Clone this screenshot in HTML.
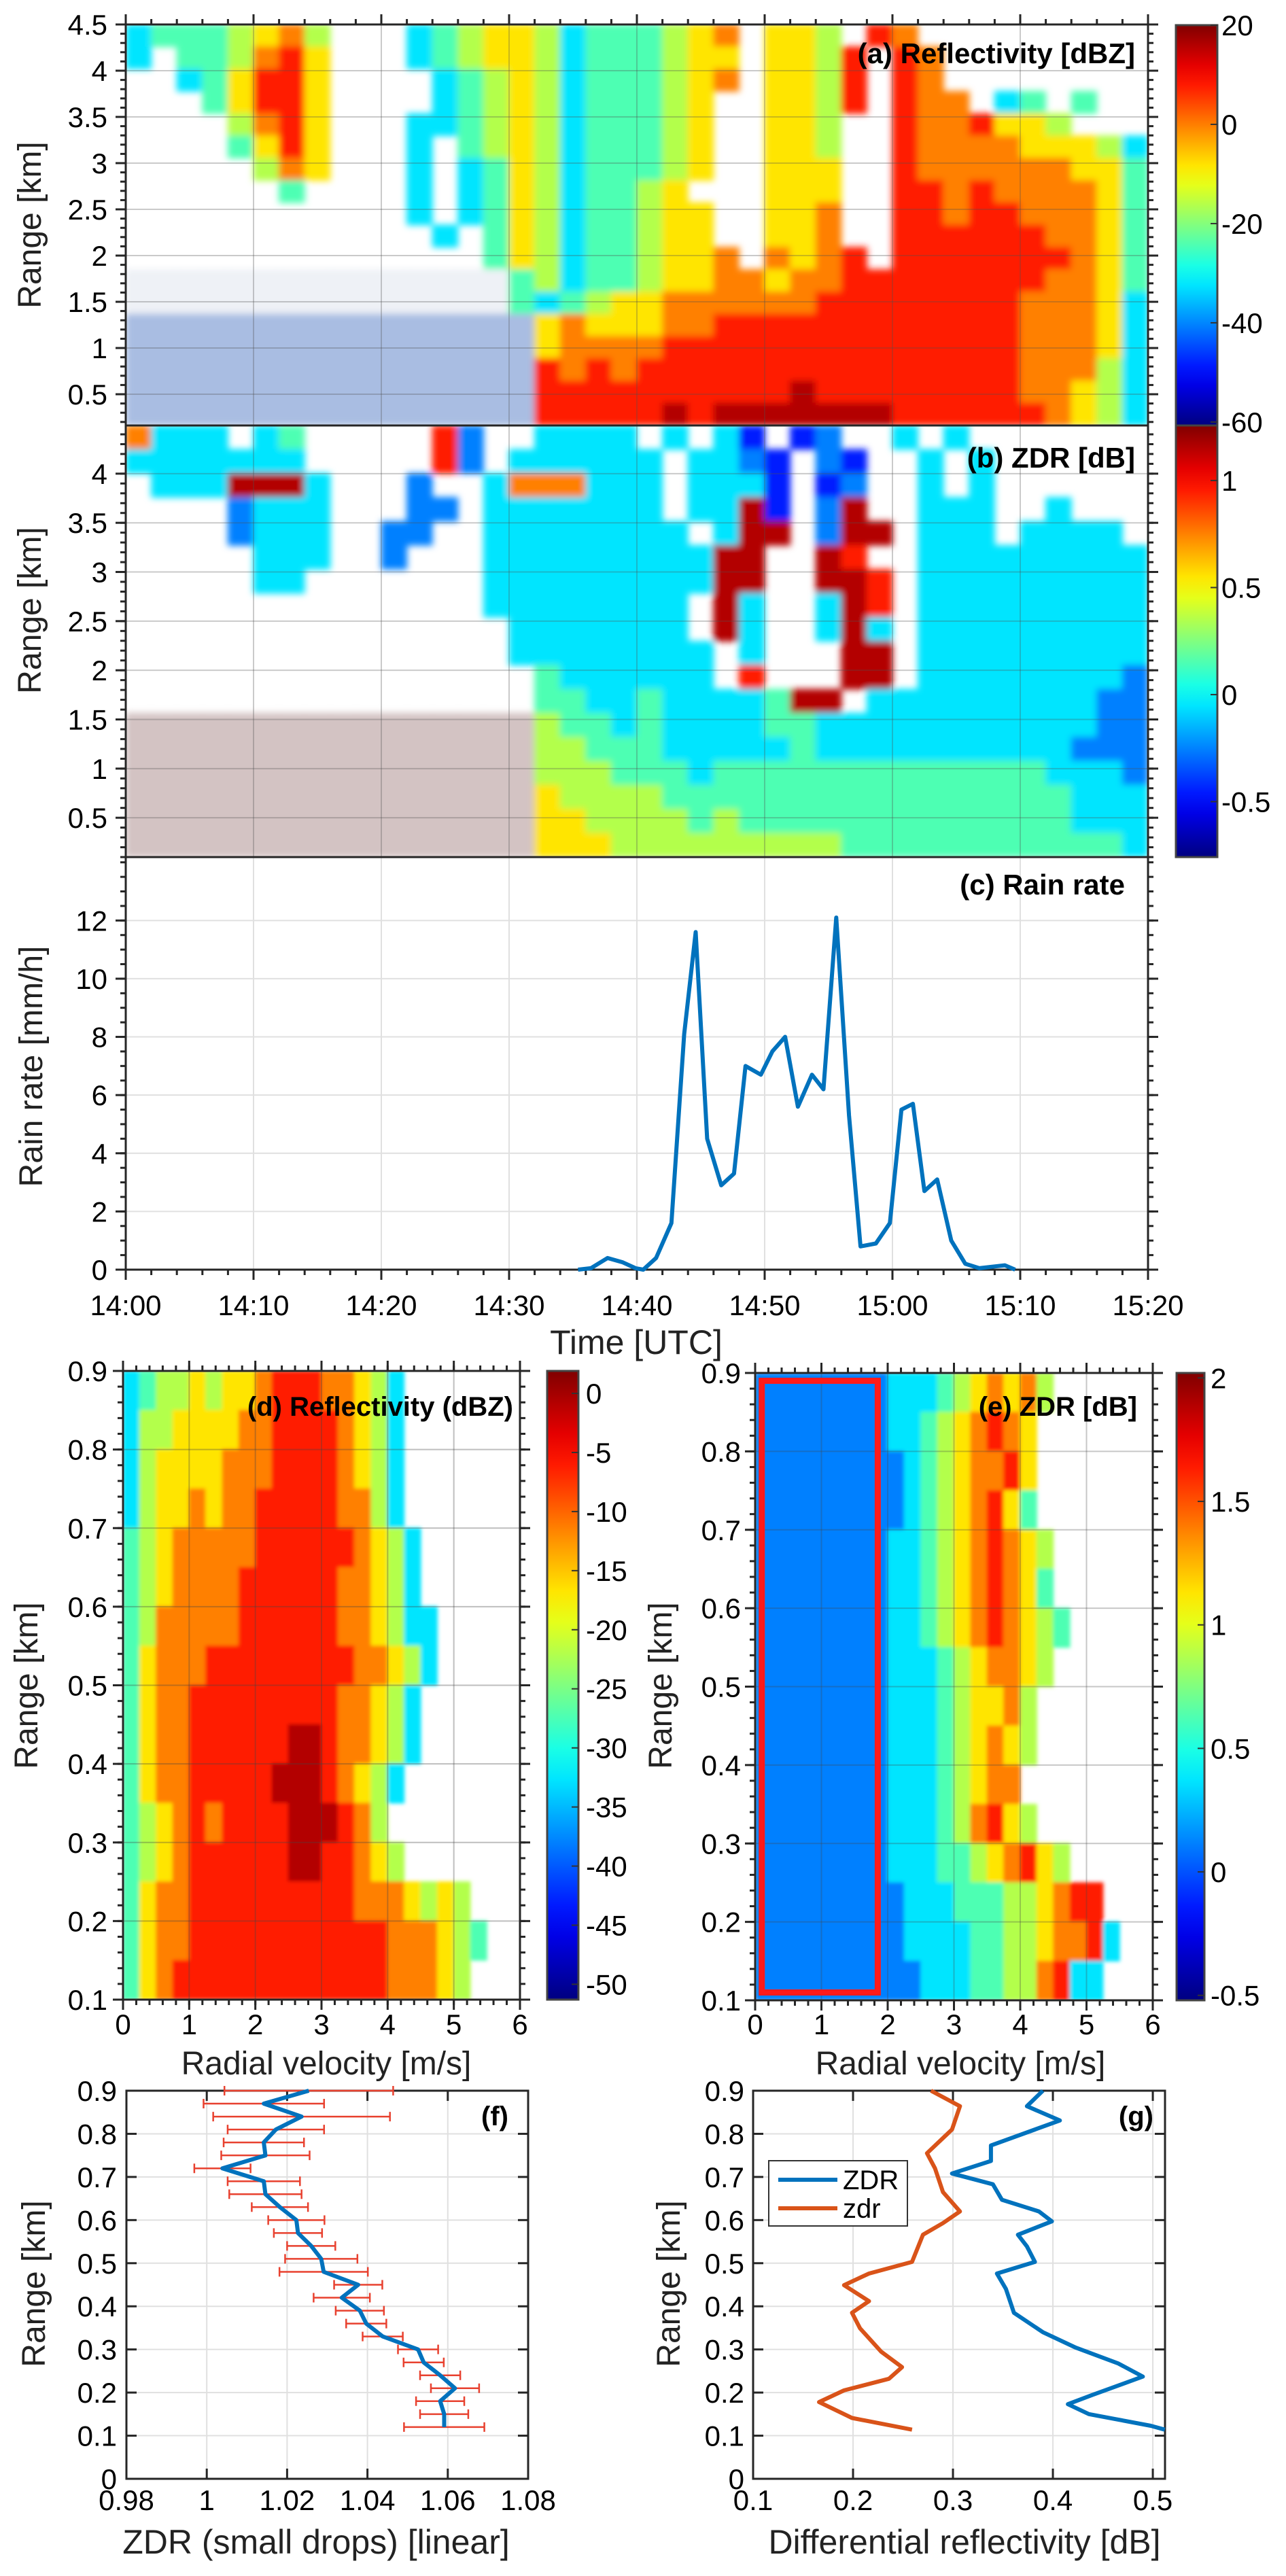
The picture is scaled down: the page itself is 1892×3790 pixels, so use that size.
<!DOCTYPE html>
<html><head><meta charset="utf-8">
<style>
html,body{margin:0;padding:0;background:#fff;}
svg{display:block;font-family:"Liberation Sans",Arial,sans-serif;}
</style></head>
<body>
<svg id="fig" xmlns="http://www.w3.org/2000/svg" width="1892" height="3790" viewBox="0 0 1892 3790">
<defs>
<filter id="blurA" filterUnits="userSpaceOnUse" x="0" y="0" width="1892" height="3790"><feGaussianBlur stdDeviation="5"/></filter>
<filter id="blurD" filterUnits="userSpaceOnUse" x="0" y="0" width="1892" height="3790"><feGaussianBlur stdDeviation="3"/></filter>
</defs>
</svg>
<script>
// ---------- DATA ----------
const rainMin=[35.4,36.4,37.7,38.9,39.9,40.5,41.5,42.7,43.7,44.6,45.5,46.6,47.6,48.5,49.7,50.6,51.6,52.6,53.7,54.6,55.6,56.6,57.5,58.7,59.8,60.7,61.6,62.5,63.5,64.6,65.7,66.8,67.8,68.8,69.6];
const rainVal=[0,0.05,0.4,0.25,0.05,0,0.4,1.6,8.1,11.6,4.5,2.9,3.3,7.0,6.7,7.5,8.0,5.6,6.7,6.2,12.1,5.3,0.8,0.9,1.6,5.5,5.7,2.7,3.1,1.0,0.2,0.05,0.1,0.15,0];
const timeTickLabels=["14:00","14:10","14:20","14:30","14:40","14:50","15:00","15:10","15:20"];

const fRange=[0.9,0.87,0.84,0.81,0.78,0.75,0.72,0.69,0.66,0.63,0.6,0.57,0.54,0.51,0.48,0.45,0.42,0.39,0.36,0.33,0.3,0.27,0.24,0.21,0.18,0.15,0.12];
const fMean=[1.0254,1.0142,1.0236,1.0172,1.0142,1.0146,1.0039,1.0142,1.0146,1.0182,1.0223,1.0227,1.026,1.0285,1.0291,1.0377,1.0336,1.0381,1.0397,1.0438,1.0526,1.054,1.0581,1.0618,1.0581,1.0591,1.0591];
const fErr=[0.021,0.015,0.022,0.012,0.01,0.011,0.007,0.009,0.009,0.007,0.007,0.006,0.006,0.009,0.011,0.006,0.007,0.006,0.005,0.005,0.005,0.005,0.005,0.006,0.006,0.006,0.01];

const gRangeZDR=[0.9,0.864,0.831,0.773,0.737,0.708,0.683,0.647,0.62,0.597,0.566,0.539,0.503,0.476,0.44,0.385,0.34,0.304,0.268,0.237,0.195,0.173,0.15,0.123,0.114];
const gZDR=[0.390,0.374,0.407,0.338,0.338,0.299,0.340,0.349,0.386,0.399,0.365,0.374,0.382,0.344,0.353,0.361,0.390,0.423,0.465,0.490,0.440,0.415,0.436,0.498,0.512];
const gRangeZdr=[0.9,0.864,0.81,0.755,0.72,0.665,0.62,0.593,0.566,0.503,0.476,0.449,0.412,0.385,0.349,0.295,0.259,0.232,0.205,0.178,0.141,0.114];
const gZdr=[0.278,0.307,0.299,0.274,0.282,0.290,0.307,0.290,0.270,0.259,0.216,0.191,0.216,0.199,0.207,0.228,0.249,0.236,0.191,0.166,0.199,0.259];

// heatmap level grids (digit 0-9 = colormap level, '.' = no echo, n/m/g = clutter)
const reflRows=[
"34445675...3456653444567.665.87.........",
"3.445786...3456653444566.6658.87........",
"..346886....345653444567.6658.87........",
"...46886....34565344456..6658.877.34.4..",
"....5786...334565344456..665..8778665...",
"....4686...3.4565344456..665..8777766653",
".....576...3.3465344456..666..8777777664",
"......4....3.346534456...666..8878777764",
"...........3.3465344566..667..8878877764",
"............3.465344566..667..8888887764",
"..............4653445667.7678.8888888764",
"mmmmmmmmmmmmmmm4534456677677888888887764",
"mmmmmmmmmmmmmmm4345667777778888888877763",
"nnnnnnnnnnnnnnnn676667788888888888877763",
"nnnnnnnnnnnnnnnn677778888888888888877763",
"nnnnnnnnnnnnnnnn878788888888888888877753",
"nnnnnnnnnnnnnnnn888888888898888888877653",
"nnnnnnnnnnnnnnnn888889899999998888887653"];
const zdrRows=[
"7333.34.....82..3333.3.31.12..3.3.......",
"3333333.....82.333333.3321.21..3.3......",
".3339993...2..3777333.3331.12..3.3......",
"....2333...22.3333333.3391.29..333..3...",
"....2333..22..33333333.399.299.333.3333.",
".....333..2...33333333399..98..333333333",
".....33.......33333333399..998.333333333",
"..............33333333.93..398.333333333",
"...............3333333.93..393.333333333",
"...............33333333.3...99.333333333",
"................4333333.8...99.333333332",
"................443343333499.33333333322",
"gggggggggggggggg544343333443333333333322",
"gggggggggggggggg554443333343333333333222",
"gggggggggggggggg555444344444444444443332",
"gggggggggggggggg655554444444444444444333",
"gggggggggggggggg665555454444444444444333",
"gggggggggggggggg666555555555444444444443"];
const dRows=[
"34556566788877653",
"35566667788887653",
"35666677788887653",
"35667677888887753",
"456777778888887653",
"456777788888877653",
"4577777888888776533",
"4677788888888877653",
"467788888888877653",
"467788888899877653",
"46778888899987653",
"4567878888999875",
"45678888889988765",
"467788888888887776565",
"4677888888888888777654",
"467888888888888877765"];
const eRows=[
"222222223334567675",
"22222222334567876",
"22222222234567786",
"22222222234567864",
"222222223345678765",
"222222223345678764",
"2222222233456787654",
"222222223334567765",
"22222222333456675",
"22222222333456765",
"2222222233345677",
"22222222333457865",
"2222222233344567865",
"222222222333444556788",
"2222222223333445567783",
"222222222233344557833"];
const cbTicksA=[20,0,-20,-40,-60];
const cbTicksB=[1,0.5,0,-0.5];
const cbTicksD=[0,-5,-10,-15,-20,-25,-30,-35,-40,-45,-50];
const cbTicksE=[2,1.5,1,0.5,0,-0.5];

// ---------- HELPERS ----------
const NS='http://www.w3.org/2000/svg';
const svg=document.getElementById('fig');
function mk(tag,attrs,parent){const e=document.createElementNS(NS,tag);for(const k in attrs)e.setAttribute(k,attrs[k]);(parent||svg).appendChild(e);return e;}
function jet(f){f=Math.max(0,Math.min(1,f));const c=x=>Math.round(255*Math.max(0,Math.min(1,x)));return 'rgb('+c(1.5-Math.abs(4*f-3))+','+c(1.5-Math.abs(4*f-2))+','+c(1.5-Math.abs(4*f-1))+')';}
function levelColor(ch){
  if(ch==='n')return '#a9bde2';
  if(ch==='m')return '#eef1f6';
  if(ch==='g')return '#d3c3c3';
  return jet((parseInt(ch,10)+0.5)/10);
}
const INK='#262626';
function scales(p){
  p.sx=v=>p.x0+(v-p.xd[0])/(p.xd[1]-p.xd[0])*(p.x1-p.x0);
  p.sy=v=>p.y1-(v-p.yd[0])/(p.yd[1]-p.yd[0])*(p.y1-p.y0);
  return p;
}
function range(a,b,s){const r=[];for(let v=a;v<=b+1e-9;v+=s)r.push(Math.round(v*1e6)/1e6);return r;}

function heat(p,rows,ncols,xr,yr,filt,name){
  const clip=mk('clipPath',{id:'clip-'+name},svg.querySelector('defs'));
  mk('rect',{x:p.x0,y:p.y0,width:p.x1-p.x0,height:p.y1-p.y0},clip);
  const outer=mk('g',{'clip-path':'url(#clip-'+name+')'});
  
  
  const g=mk('g',{filter:'url(#'+filt+')'},outer);
  const cw=(xr[1]-xr[0])/ncols, rh=(yr[0]-yr[1])/rows.length;
  rows.forEach((row,ri)=>{
    const s=row.padEnd(ncols,'.');
    for(let ci=0;ci<ncols;ci++){
      const ch=s[ci]; if(ch==='.')continue;
      const xa=p.sx(xr[0]+ci*cw), xb=p.sx(xr[0]+(ci+1)*cw);
      const ya=p.sy(yr[0]-ri*rh), yb=p.sy(yr[0]-(ri+1)*rh);
      const r=mk('rect',{x:xa-0.5,y:ya-0.5,width:xb-xa+1,height:yb-ya+1,fill:levelColor(ch)},g);
      
      
    }
  });
}

function decor(p){
  const g=mk('g',{});
  
  
  const gc=p.gridColor||'#e0e0e0';
  if(p.grid){
    p.xt.forEach(v=>{const x=p.sx(v);if(x>p.x0+2&&x<p.x1-2){const l=mk('line',{x1:x,x2:x,y1:p.y0,y2:p.y1,stroke:gc,'stroke-width':2},g);}});
    p.yt.forEach(v=>{const y=p.sy(v);if(y>p.y0+2&&y<p.y1-2){const l=mk('line',{x1:p.x0,x2:p.x1,y1:y,y2:y,stroke:gc,'stroke-width':2},g);}});
  }
  const d=p.out?1:-1, L=15, Lm=8;
  const tk=(x1,y1,x2,y2)=>{const l=mk('line',{x1,y1,x2,y2,stroke:INK,'stroke-width':3},g);};
  const drawX=(vals,len)=>vals.forEach(v=>{const x=p.sx(v);if(x<p.x0-1||x>p.x1+1)return;
    if(!p.noBottom)tk(x,p.y1,x,p.y1+d*len); if(!p.noTop)tk(x,p.y0,x,p.y0-d*len);});
  const drawY=(vals,len)=>vals.forEach(v=>{const y=p.sy(v);if(y<p.y0-1||y>p.y1+1)return;
    tk(p.x0,y,p.x0-d*len,y); tk(p.x1,y,p.x1+d*len,y);});
  if(p.xminor)drawX(p.xminor,Lm); drawX(p.xt,L);
  if(p.yminor)drawY(p.yminor,Lm); drawY(p.yt,L);
  const fr=mk('rect',{x:p.x0,y:p.y0,width:p.x1-p.x0,height:p.y1-p.y0,fill:'none',stroke:INK,'stroke-width':3},g);
  
  
  if(p.yLabels!==false){
    p.yt.forEach(v=>{const t=mk('text',{x:p.yLabX,y:p.sy(v)+15,'text-anchor':'end','font-size':42,fill:'#000'},g);t.textContent=p.yfmt?p.yfmt(v):String(v);});
  }
  if(p.xLabels){
    p.xt.forEach((v,i)=>{const t=mk('text',{x:p.sx(v),y:p.xLabY,'text-anchor':'middle','font-size':42,fill:'#000'},g);t.textContent=p.xfmt?p.xfmt(v,i):String(v);});
  }
}
function label(s,x,y,opts,name){
  const a={x,y,'font-size':opts.size||48,fill:opts.fill||'#222','text-anchor':opts.anchor||'middle'};
  if(opts.bold)a['font-weight']='bold';
  if(opts.rot)a.transform='rotate(-90 '+x+' '+y+')';
  const t=mk('text',a);t.textContent=s;
  
  
  return t;
}
function colorbar(x0,x1,y0,y1,dom,ticks,labX,name){
  const id='grad-'+name;
  const lg=mk('linearGradient',{id,x1:0,y1:1,x2:0,y2:0},svg.querySelector('defs'));
  for(let i=0;i<=20;i++)mk('stop',{offset:(i/20),'stop-color':jet(i/20)},lg);
  const g=mk('g',{});
  
  
  const r=mk('rect',{x:x0,y:y0,width:x1-x0,height:y1-y0,fill:'url(#'+id+')',stroke:'#444','stroke-width':3},g);
  
  
  const sy=v=>y1-(v-dom[0])/(dom[1]-dom[0])*(y1-y0);
  ticks.forEach(v=>{const y=sy(v);
    const l=mk('line',{x1:x1-10,x2:x1,y1:y,y2:y,stroke:'#333','stroke-width':2},g);
    
    
    const t=mk('text',{x:labX,y:y+15,'font-size':42,fill:'#000'},g);t.textContent=String(v);
    
    });
}
function polyline(p,xs,ys,color,name){
  const pts=xs.map((x,i)=>p.sx(x).toFixed(1)+','+p.sy(ys[i]).toFixed(1)).join(' ');
  const l=mk('polyline',{points:pts,fill:'none',stroke:color,'stroke-width':6,'stroke-linejoin':'round'});
  
  
}

// ---------- PANEL A ----------
const tMajor=range(0,80,10), tMinor=range(0,80,2);
const A=scales({name:'panel-a',x0:185,x1:1689,y0:36,y1:626,xd:[0,80],yd:[0.162,4.5],xt:tMajor,xminor:tMinor,yt:range(0.5,4.5,0.5),yminor:range(0.2,4.5,0.1),out:true,grid:true,gridColor:'rgba(80,80,80,0.3)',noBottom:true,yLabX:158});
heat(A,reflRows,40,[0,80],[4.5,0.162],'blurA','reflectivity');
decor(A);
label('(a) Reflectivity [dBZ]',1670,93,{anchor:'end',bold:true,size:42,fill:'#000'},'panel-a-title');
label('Range [km]',60,331,{rot:true},'panel-a-y-axis-title');
colorbar(1730,1791,37,626,[-60.7,20],cbTicksA,1797,'colorbar-a');

// ---------- PANEL B ----------
const B=scales({name:'panel-b',x0:185,x1:1689,y0:626,y1:1261,xd:[0,80],yd:[0.1,4.49],xt:tMajor,xminor:tMinor,yt:range(0.5,4,0.5),yminor:range(0.1,4.4,0.1),out:true,grid:true,gridColor:'rgba(80,80,80,0.3)',noBottom:true,noTop:true,yLabX:158});
heat(B,zdrRows,40,[0,80],[4.49,0.1],'blurA','zdr');
decor(B);
label('(b) ZDR [dB]',1670,688,{anchor:'end',bold:true,size:42,fill:'#000'},'panel-b-title');
label('Range [km]',60,898,{rot:true},'panel-b-y-axis-title');
colorbar(1730,1791,626,1261,[-0.759,1.257],cbTicksB,1797,'colorbar-b');

// ---------- PANEL C ----------
const C=scales({name:'panel-c',x0:185,x1:1689,y0:1261,y1:1868,xd:[0,80],yd:[0,14.18],xt:tMajor,xminor:tMinor,yt:range(0,12,2),yminor:range(0,14,0.5),out:true,grid:true,noTop:true,yLabX:158,xLabels:true,xLabY:1935,xfmt:(v,i)=>timeTickLabels[i]});
decor(C);
polyline(C,rainMin,rainVal,'#0072BD','rain-rate-line');
label('(c) Rain rate',1655,1316,{anchor:'end',bold:true,size:42,fill:'#000'},'panel-c-title');
label('Rain rate [mm/h]',62,1569,{rot:true},'panel-c-y-axis-title');
label('Time [UTC]',936,1992,{size:50},'panel-c-x-axis-title');

// ---------- PANEL D ----------
const D=scales({name:'panel-d',x0:181,x1:765,y0:2017,y1:2942,xd:[0,6],yd:[0.1,0.9],xt:range(0,6,1),xminor:range(0,6,0.2),yt:range(0.1,0.9,0.1),yminor:range(0.1,0.9,0.02),out:true,grid:true,gridColor:'rgba(70,70,70,0.35)',yLabX:158,xLabels:true,xLabY:2993,yfmt:v=>v.toFixed(1)});
heat(D,dRows,24,[0,6],[0.9,0.1],'blurD','doppler-reflectivity');
decor(D);
label('(d) Reflectivity (dBZ)',755,2083,{anchor:'end',bold:true,size:40,fill:'#000'},'panel-d-title');
label('Range [km]',55,2480,{rot:true},'panel-d-y-axis-title');
label('Radial velocity [m/s]',480,3052,{size:48},'panel-d-x-axis-title');
colorbar(805,851,2017,2942,[-51.3,1.9],cbTicksD,862,'colorbar-d');

// ---------- PANEL E ----------
const E=scales({name:'panel-e',x0:1111,x1:1696,y0:2020,y1:2943,xd:[0,6],yd:[0.1,0.9],xt:range(0,6,1),xminor:range(0,6,0.2),yt:range(0.1,0.9,0.1),yminor:range(0.1,0.9,0.02),out:true,grid:true,gridColor:'rgba(70,70,70,0.3)',yLabX:1090,xLabels:true,xLabY:2993,yfmt:v=>v.toFixed(1)});
heat(E,eRows,24,[0,6],[0.9,0.1],'blurD','doppler-zdr');
decor(E);
const box=mk('rect',{x:E.sx(0.1),y:E.sy(0.89),width:E.sx(1.85)-E.sx(0.1),height:E.sy(0.11)-E.sy(0.89),fill:'none',stroke:'#ff1a1a','stroke-width':9});


label('(e) ZDR [dB]',1673,2083,{anchor:'end',bold:true,size:40,fill:'#000'},'panel-e-title');
label('Range [km]',988,2480,{rot:true},'panel-e-y-axis-title');
label('Radial velocity [m/s]',1413,3052,{size:48},'panel-e-x-axis-title');
colorbar(1731,1772,2020,2943,[-0.52,2.02],cbTicksE,1781,'colorbar-e');

// ---------- PANEL F ----------
const F=scales({name:'panel-f',x0:186,x1:777,y0:3076,y1:3647,xd:[0.98,1.08],yd:[0,0.9],xt:[0.98,1,1.02,1.04,1.06,1.08],yt:range(0,0.9,0.1),out:false,grid:true,yLabX:172,xLabels:true,xLabY:3693,yfmt:v=>v===0?'0':v.toFixed(1),xfmt:v=>String(v)});
decor(F);
const eg=mk('g',{});


fRange.forEach((r,i)=>{
  const y=F.sy(r),xa=F.sx(fMean[i]-fErr[i]),xb=F.sx(fMean[i]+fErr[i]);
  const l=mk('path',{d:'M'+xa+' '+y+'H'+xb+'M'+xa+' '+(y-7)+'V'+(y+7)+'M'+xb+' '+(y-7)+'V'+(y+7),stroke:'#e8412f','stroke-width':2.5,fill:'none'},eg);
  
  
});
polyline(F,fMean,fRange,'#0072BD','zdr-small-drops-line');
label('(f)',748,3127,{anchor:'end',bold:true,size:40,fill:'#000'},'panel-f-title');
label('Range [km]',66,3360,{rot:true},'panel-f-y-axis-title');
label('ZDR (small drops) [linear]',465,3757,{size:50},'panel-f-x-axis-title');

// ---------- PANEL G ----------
const G=scales({name:'panel-g',x0:1108,x1:1714,y0:3076,y1:3647,xd:[0.1,0.5122],yd:[0,0.9],xt:[0.1,0.2,0.3,0.4,0.5],yt:range(0,0.9,0.1),out:false,grid:true,yLabX:1095,xLabels:true,xLabY:3693,yfmt:v=>v===0?'0':v.toFixed(1),xfmt:v=>v.toFixed(1)});
decor(G);
polyline(G,gZDR,gRangeZDR,'#0072BD','zdr-line');
polyline(G,gZdr,gRangeZdr,'#D95319','zdr-lower-line');
label('(g)',1697,3127,{anchor:'end',bold:true,size:40,fill:'#000'},'panel-g-title');
label('Range [km]',1000,3360,{rot:true},'panel-g-y-axis-title');
label('Differential reflectivity [dB]',1419,3757,{size:50},'panel-g-x-axis-title');
const lg=mk('g',{});


const lb=mk('rect',{x:1131,y:3179,width:204,height:96,fill:'#fff',stroke:'#333','stroke-width':2},lg);


[['ZDR','#0072BD',3207],['zdr','#D95319',3249]].forEach(e=>{
  const l=mk('line',{x1:1145,x2:1232,y1:e[2],y2:e[2],stroke:e[1],'stroke-width':6},lg);
  
  
  const t=mk('text',{x:1240,y:e[2]+14,'font-size':40,fill:'#000'},lg);t.textContent=e[0];
  
  
});
</script>
</body></html>
